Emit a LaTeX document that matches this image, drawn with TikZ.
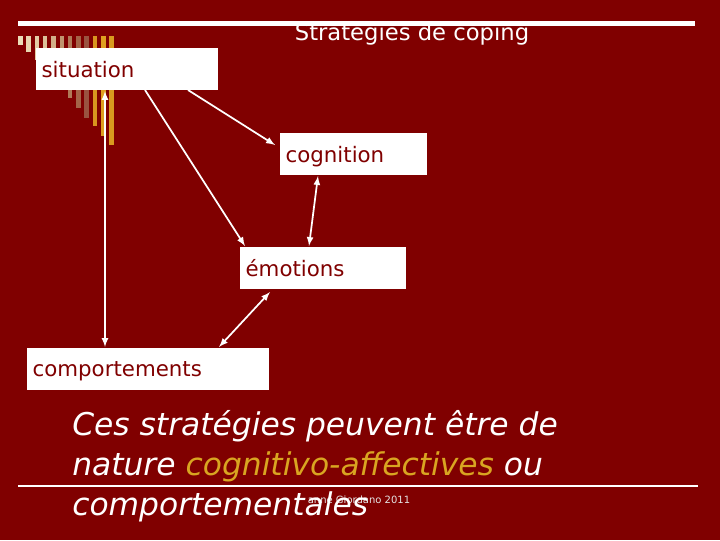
\documentclass[tikz,border=0pt]{standalone}
\usepackage{fontspec}
\setmainfont{DejaVu Sans}
\definecolor{bg}{HTML}{800000}
\definecolor{gold}{HTML}{D9A521}
\begin{document}
\begin{tikzpicture}[x=0.75pt,y=-0.75pt,
  box/.style={fill=white,draw=none,minimum height=31.5pt,text=bg,font=\fontsize{16}{19}\selectfont,inner xsep=4pt,anchor=north west,align=left,text depth=0pt},
  arr/.style={draw=white,line width=1.3pt,-latex},
  darr/.style={draw=white,line width=1.3pt,latex-latex}]
\fill[bg] (0,0) rectangle (720,540);
\useasboundingbox (0,0) rectangle (720,540);
% bars
\foreach \i/\c/\l in {0/EBDDB8/45,1/E8D6B0/52,2/E4CDA5/60,3/DCC099/68,4/D2AE88/78,5/C0946E/88,6/B07A58/98,7/A46448/108,8/9A5340/118,9/D9951F/126,10/DFA020/136,11/D99A1F/145}{
  \definecolor{bc}{HTML}{\c}
  \fill[bc] ({18+\i*8.3},36) rectangle ({22.5+\i*8.3},\l);}
\node[text=white,font=\fontsize{17}{20}\selectfont] (title) at (412,34) {Stratégies de coping};
\fill[white] (18,21) rectangle (695,26);
\node[box,text width=128pt] (sit) at (36,48) {situation};
\node[box,text width=102pt] (cog) at (280,133) {cognition};
\node[box,text width=116pt] (emo) at (240,247) {émotions};
\node[box,text width=173pt] (comp) at (27,348) {comportements};
\draw[arr] (188,90) -- (275,145);
\draw[arr] (145,90) -- (245,246);
\draw[darr] (105,91) -- (105,347);
\draw[darr] (318,176) -- (309,246);
\draw[darr] (270,292) -- (219,347);
\draw[white,line width=0.9pt] (18,486) -- (698,486);
\node[text=white!80!gray,font=\fontsize{7.5}{9}\selectfont] (foot) at (359,500) {anne Giordano 2011};
\node[text=white,font=\itshape\fontsize{23.5}{30}\selectfont,anchor=north west,align=left,inner sep=0pt] (txt) at (72,410)
 {Ces stratégies peuvent être de\\nature \textcolor{gold}{cognitivo-affectives} ou\\comportementales};
\end{tikzpicture}
\end{document}
